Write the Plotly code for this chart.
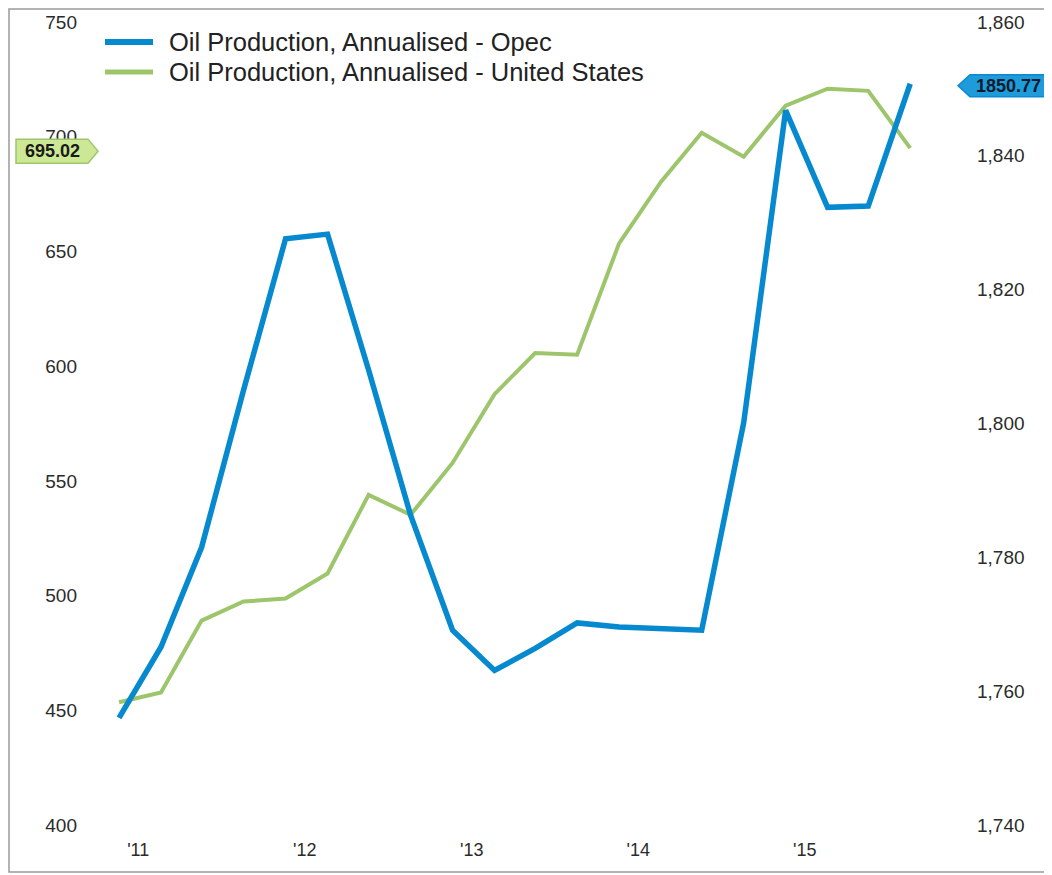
import plotly.graph_objects as go

# ---- data ----
dates = ["2010-11-20", "2011-02-20", "2011-05-20", "2011-08-20", "2011-11-20",
         "2012-02-20", "2012-05-20", "2012-08-20", "2012-11-20",
         "2013-02-20", "2013-05-20", "2013-08-20", "2013-11-20",
         "2014-02-20", "2014-05-20", "2014-08-20", "2014-11-20",
         "2015-02-20", "2015-05-20", "2015-08-20"]
opec = [1756.0, 1766.6, 1781.5, 1805.0, 1827.6, 1828.3, 1808.0, 1786.3, 1769.1, 1763.1,
        1766.4, 1770.2, 1769.6, 1769.4, 1769.1, 1800.1, 1846.8, 1832.3, 1832.5, 1850.77]
us = [453.5, 457.8, 489.1, 497.4, 498.7, 509.6, 543.9, 535.2, 557.8, 587.8,
      605.7, 605.0, 653.5, 680.4, 701.7, 691.3, 713.5, 720.9, 720.0, 695.02]
series_names = ["Oil Production, Annualised - Opec",
                "Oil Production, Annualised - United States"]
tick_dates = ["2011-01-01", "2012-01-01", "2013-01-01", "2014-01-01", "2015-01-01"]
tick_text = ["'11", "'12", "'13", "'14", "'15"]
left_ticks = [400, 450, 500, 550, 600, 650, 700, 750]
right_ticks = [1740, 1760, 1780, 1800, 1820, 1840, 1860]

BLUE = "#0789D0"
GREEN = "#9DC56B"
TXT = "#2b2b2b"
FONT = "Liberation Sans, Arial, sans-serif"

fig = go.Figure()
fig.add_trace(go.Scatter(x=dates, y=opec, yaxis="y2", mode="lines",
                         name=series_names[0], line=dict(color=BLUE, width=5.5)))
fig.add_trace(go.Scatter(x=dates, y=us, yaxis="y", mode="lines", showlegend=False,
                         hoverinfo="skip", line=dict(color="white", width=7)))
fig.add_trace(go.Scatter(x=dates, y=us, yaxis="y", mode="lines",
                         name=series_names[1], line=dict(color=GREEN, width=4)))

W, H = 1052, 875
L, R, T, B = 80, 85, 14, 58
pw, ph = W - L - R, H - T - B

def px(x):
    return (x - L) / pw

def py(y):
    return (H - B - y) / ph

shapes = [
    dict(type="rect", xref="paper", yref="paper", x0=px(1), x1=px(1041), y0=py(864), y1=py(1),
         line=dict(color="#9a9a9a", width=1.5), fillcolor="rgba(0,0,0,0)", layer="below"),
    dict(type="path", xref="paper", yref="y", xsizemode="pixel", ysizemode="pixel",
         xanchor=0, yanchor=us[-1], path="M-72,-15 L0,-15 L10,-3 L0,9 L-72,9 Z",
         fillcolor="#CDE894", line=dict(color="#9CC56C", width=1.5), layer="above"),
    dict(type="path", xref="paper", yref="y2", xsizemode="pixel", ysizemode="pixel",
         xanchor=1, yanchor=opec[-1], path="M-17,-2 L-5,-13 L72,-13 L72,9 L-5,9 Z",
         fillcolor="#1E9BDA", line=dict(color="#0A8ACF", width=1.5), layer="above"),
    # manual legend samples
    dict(type="line", xref="paper", yref="paper", x0=px(97), x1=px(145), y0=py(34), y1=py(34),
         line=dict(color=BLUE, width=6)),
    dict(type="line", xref="paper", yref="paper", x0=px(97), x1=px(145), y0=py(64), y1=py(64),
         line=dict(color=GREEN, width=5)),
]
annotations = [
    dict(xref="paper", yref="y", x=0, y=us[-1], xshift=-36, yshift=-3, xanchor="center",
         showarrow=False, text="<b>%.2f</b>" % us[-1],
         font=dict(family=FONT, size=18, color="#1a1a1a")),
    dict(xref="paper", yref="y2", x=1, y=opec[-1], xshift=33.5, yshift=-2, xanchor="center",
         showarrow=False, text="<b>%.2f</b>" % opec[-1],
         font=dict(family=FONT, size=18, color="#0d1a2a")),
    dict(xref="paper", yref="paper", x=px(159), y=py(34), xanchor="left", yanchor="middle",
         showarrow=False, text=series_names[0], font=dict(family=FONT, size=25.5, color="#222")),
    dict(xref="paper", yref="paper", x=px(159), y=py(64), xanchor="left", yanchor="middle",
         showarrow=False, text=series_names[1], font=dict(family=FONT, size=25.5, color="#222")),
]

fig.update_layout(
    width=W, height=H,
    margin=dict(l=L, r=R, t=T, b=B, autoexpand=False),
    paper_bgcolor="white", plot_bgcolor="white",
    font=dict(family=FONT, color=TXT),
    showlegend=False,
    xaxis=dict(type="date", range=["2010-09-13", "2016-01-09"], automargin=False,
               tickvals=tick_dates, ticktext=tick_text,
               showgrid=False, zeroline=False, showline=False, ticks="",
               tickfont=dict(family=FONT, size=18, color=TXT), ticklabelstandoff=12),
    yaxis=dict(range=[400, 750], tickvals=left_ticks, showgrid=False, zeroline=False,
               automargin=False, showline=False, ticks="",
               tickfont=dict(family=FONT, size=19, color=TXT), ticklabelstandoff=10),
    yaxis2=dict(range=[1740, 1860], tickvals=right_ticks, overlaying="y", side="right",
                automargin=False, showgrid=False, zeroline=False, showline=False, ticks="",
                tickformat=",d", tickfont=dict(family=FONT, size=19, color=TXT),
                ticklabelstandoff=1),
    shapes=shapes,
    annotations=annotations,
)

fig.write_html("out.html")
